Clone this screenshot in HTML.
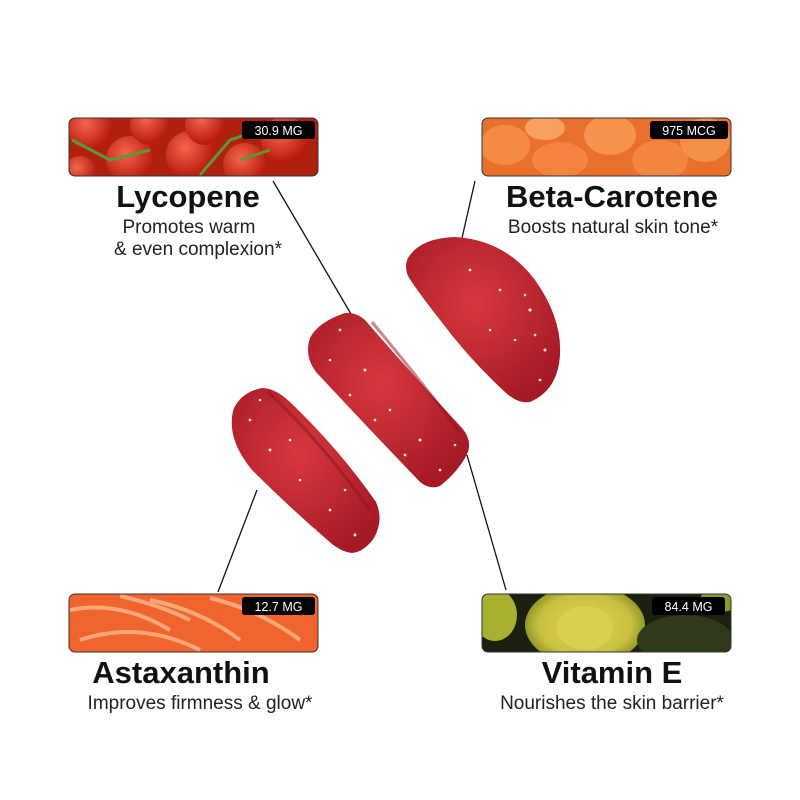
<!DOCTYPE html>
<html><head><meta charset="utf-8"><style>
html,body{margin:0;padding:0;background:#fff;}
svg{display:block}
text{font-family:"Liberation Sans",Arial,sans-serif;}
.t{font-weight:bold;font-size:31px;fill:#111;text-anchor:middle}
.s{font-size:19px;fill:#222;text-anchor:middle}
.b{font-size:12.5px;fill:#fff;text-anchor:middle}
</style></head><body>
<svg width="800" height="800" viewBox="0 0 800 800" xmlns="http://www.w3.org/2000/svg">
<defs>
<clipPath id="c1"><rect x="69" y="118" width="249" height="58" rx="6"/></clipPath>
<clipPath id="c2"><rect x="482" y="118" width="249" height="58" rx="6"/></clipPath>
<clipPath id="c3"><rect x="69" y="594" width="249" height="58" rx="6"/></clipPath>
<clipPath id="c4"><rect x="482" y="594" width="249" height="58" rx="6"/></clipPath>
<radialGradient id="tom" cx="40%" cy="35%" r="60%"><stop offset="0" stop-color="#f5664a"/><stop offset="1" stop-color="#b81c10"/></radialGradient>
<radialGradient id="gum" cx="45%" cy="40%" r="65%"><stop offset="0" stop-color="#d8383e"/><stop offset="1" stop-color="#a51a26"/></radialGradient>
<radialGradient id="avo" cx="50%" cy="50%" r="55%"><stop offset="0" stop-color="#e0d45a"/><stop offset="0.7" stop-color="#c8c040"/><stop offset="1" stop-color="#7c8a20"/></radialGradient>
</defs>

<g clip-path="url(#c1)">
<rect x="69" y="118" width="249" height="58" fill="#b0200f"/>
<circle cx="90" cy="130" r="22" fill="url(#tom)"/><circle cx="130" cy="160" r="24" fill="url(#tom)"/>
<circle cx="150" cy="125" r="20" fill="url(#tom)"/><circle cx="190" cy="155" r="24" fill="url(#tom)"/>
<circle cx="205" cy="125" r="20" fill="url(#tom)"/><circle cx="245" cy="165" r="22" fill="url(#tom)"/>
<circle cx="285" cy="140" r="24" fill="url(#tom)"/><circle cx="80" cy="172" r="16" fill="url(#tom)"/>
<path d="M72 140 L110 160 L150 150 M200 175 L230 140 L260 130 M240 160 L270 150" stroke="#5a9a30" stroke-width="3" fill="none"/>
</g>
<rect x="69" y="118" width="249" height="58" rx="6" fill="none" stroke="#333" stroke-width="1"/>
<rect x="242" y="121" width="73" height="18" rx="3" fill="#000"/><text class="b" x="278.5" y="135">30.9 MG</text>

<g clip-path="url(#c2)">
<rect x="482" y="118" width="249" height="58" fill="#e8702c"/>
<ellipse cx="505" cy="145" rx="25" ry="20" fill="#f58a45"/><ellipse cx="560" cy="160" rx="28" ry="18" fill="#f48240"/>
<ellipse cx="610" cy="135" rx="26" ry="20" fill="#f7934e"/><ellipse cx="660" cy="160" rx="28" ry="20" fill="#f28540"/>
<ellipse cx="705" cy="140" rx="25" ry="22" fill="#f59048"/><ellipse cx="545" cy="128" rx="20" ry="12" fill="#f9a060"/>
</g>
<rect x="482" y="118" width="249" height="58" rx="6" fill="none" stroke="#333" stroke-width="1"/>
<rect x="650" y="121" width="78" height="18" rx="3" fill="#000"/><text class="b" x="689" y="135">975 MCG</text>

<g clip-path="url(#c3)">
<rect x="69" y="594" width="249" height="58" fill="#f0642e"/>
<path d="M70 610 Q120 600 170 630 M80 640 Q140 620 200 650 M150 600 Q200 610 240 640 M210 598 Q260 610 300 640 M120 596 Q160 605 190 620" stroke="#f9a77a" stroke-width="4" fill="none"/>
</g>
<rect x="69" y="594" width="249" height="58" rx="6" fill="none" stroke="#333" stroke-width="1"/>
<rect x="242" y="597" width="73" height="18" rx="3" fill="#000"/><text class="b" x="278.5" y="611">12.7 MG</text>

<g clip-path="url(#c4)">
<rect x="482" y="594" width="249" height="58" fill="#1c2010"/>
<ellipse cx="495" cy="615" rx="22" ry="26" fill="#a8b030"/>
<ellipse cx="585" cy="625" rx="60" ry="40" fill="url(#avo)"/>
<ellipse cx="585" cy="628" rx="28" ry="22" fill="#d8d050"/>
<ellipse cx="685" cy="640" rx="48" ry="25" fill="#2e3a1a"/>
<ellipse cx="720" cy="600" rx="20" ry="12" fill="#8a9a30"/>
</g>
<rect x="482" y="594" width="249" height="58" rx="6" fill="none" stroke="#333" stroke-width="1"/>
<rect x="652" y="597" width="73" height="18" rx="3" fill="#000"/><text class="b" x="688.5" y="611">84.4 MG</text>

<text class="t" x="188" y="207">Lycopene</text>
<text class="s" x="189" y="233">Promotes warm</text>
<text class="s" x="198" y="255">&amp; even complexion*</text>
<text class="t" x="612" y="207">Beta-Carotene</text>
<text class="s" x="613" y="233">Boosts natural skin tone*</text>
<text class="t" x="181" y="683">Astaxanthin</text>
<text class="s" x="200" y="709">Improves firmness &amp; glow*</text>
<text class="t" x="612" y="683">Vitamin E</text>
<text class="s" x="612" y="709">Nourishes the skin barrier*</text>

<g stroke="#111" stroke-width="1.3">
<line x1="273" y1="181" x2="351" y2="314"/>
<line x1="475" y1="181" x2="462" y2="238"/>
<line x1="257" y1="490" x2="218" y2="592"/>
<line x1="467" y1="455" x2="506" y2="590"/>
</g>

<!-- top-right gummy -->
<path d="M408 258 Q420 238 455 237 Q505 240 535 280 Q562 318 560 355 Q558 390 530 402 Q518 404 505 392 Q470 360 440 320 Q415 288 408 276 Q404 266 408 258Z" fill="url(#gum)"/>
<!-- middle gummy -->
<path d="M310 338 Q318 322 345 313 Q356 312 365 320 Q410 372 462 428 Q472 440 468 452 Q460 470 440 486 Q430 490 420 482 Q370 430 316 372 Q304 356 310 338Z" fill="url(#gum)"/>
<path d="M372 322 Q420 380 460 432" stroke="#8c1420" stroke-width="3" fill="none" opacity="0.5"/>
<!-- bottom-left gummy -->
<path d="M234 408 Q242 392 262 388 Q275 388 290 402 Q340 450 376 502 Q384 520 374 538 Q364 552 352 553 Q342 552 332 544 Q290 508 252 470 Q234 448 232 428 Q231 416 234 408Z" fill="url(#gum)"/>
<path d="M268 392 Q320 440 370 510" stroke="#8c1420" stroke-width="3" fill="none" opacity="0.5"/>
<g fill="#f5e6d8">
<circle cx="470" cy="270" r="1.4"/><circle cx="500" cy="290" r="1.4"/><circle cx="530" cy="310" r="1.6"/><circle cx="515" cy="340" r="1.3"/><circle cx="545" cy="350" r="1.5"/><circle cx="490" cy="330" r="1.3"/><circle cx="540" cy="380" r="1.4"/><circle cx="525" cy="295" r="1.3"/><circle cx="535" cy="335" r="1.3"/><circle cx="550" cy="300" r="1.3"/>
<circle cx="340" cy="330" r="1.4"/><circle cx="365" cy="370" r="1.5"/><circle cx="390" cy="410" r="1.3"/><circle cx="420" cy="440" r="1.5"/><circle cx="440" cy="470" r="1.4"/><circle cx="330" cy="360" r="1.3"/><circle cx="405" cy="455" r="1.4"/><circle cx="455" cy="445" r="1.3"/><circle cx="375" cy="420" r="1.3"/><circle cx="350" cy="395" r="1.3"/>
<circle cx="250" cy="420" r="1.4"/><circle cx="270" cy="450" r="1.5"/><circle cx="300" cy="480" r="1.3"/><circle cx="330" cy="510" r="1.4"/><circle cx="355" cy="535" r="1.5"/><circle cx="290" cy="440" r="1.3"/><circle cx="345" cy="490" r="1.3"/><circle cx="260" cy="400" r="1.3"/><circle cx="315" cy="530" r="1.3"/>
</g>
</svg>
</body></html>
